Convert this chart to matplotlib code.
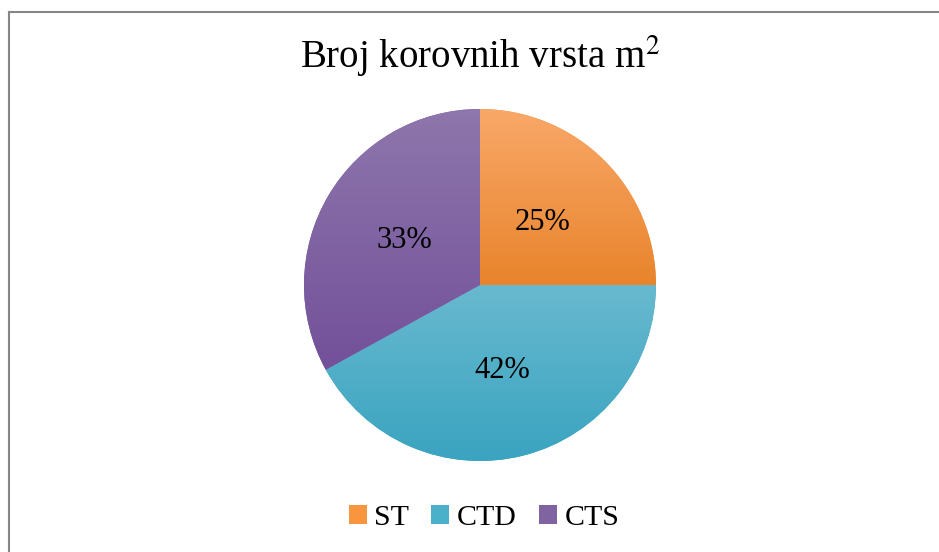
import numpy as np
import matplotlib
matplotlib.use("Agg")
import matplotlib.pyplot as plt
from matplotlib.patches import Patch
from matplotlib.lines import Line2D
from matplotlib.colors import LinearSegmentedColormap

plt.rcParams['font.family'] = ['Liberation Serif', 'DejaVu Serif']
plt.rcParams['mathtext.fontset'] = 'stix'

labels = ["ST", "CTD", "CTS"]
values = [25, 42, 33]
top_colors = ["#F9A869", "#68B9CF", "#8E77AC"]
bottom_colors = ["#E8842C", "#39A3C0", "#73509A"]
legend_colors = ["#F7963F", "#4BB0CA", "#8064A2"]

W, H = 939, 552
fig = plt.figure(figsize=(W / 100, H / 100), dpi=100)

# outer frame, only left and top edges fall inside the image
fx, fy = 8.5 / W, 1 - 11.5 / H
fig.lines.append(Line2D([fx, fx], [0, fy], transform=fig.transFigure,
                        color="#868686", linewidth=1.5))
fig.lines.append(Line2D([fx, 1], [fy, fy], transform=fig.transFigure,
                        color="#868686", linewidth=1.5))

cx, cy, r = 480, 285, 176
ax = fig.add_axes([(cx - r) / W, (H - cy - r) / H, 2 * r / W, 2 * r / H])

wedges, texts, autotexts = ax.pie(values, startangle=90, counterclock=False,
                                  colors=legend_colors, autopct='%1.0f%%',
                                  pctdistance=0.5, radius=1,
                                  textprops=dict(fontsize=22, color='black'))

for w, c1, c2 in zip(wedges, top_colors, bottom_colors):
    verts = w.get_patch_transform().transform(w.get_path().vertices)
    ymin, ymax = verts[:, 1].min(), verts[:, 1].max()
    cmap = LinearSegmentedColormap.from_list("g", [c1, c2])
    grad = np.linspace(0, 1, 256).reshape(-1, 1)
    im = ax.imshow(grad, cmap=cmap, extent=[-1.05, 1.05, ymin, ymax],
                   origin='upper', aspect='auto', zorder=2,
                   interpolation='bilinear')
    im.set_clip_path(w)

for t in autotexts:
    t.set_zorder(5)

ax.set_xlim(-1, 1)
ax.set_ylim(-1, 1)
ax.set_aspect('equal')
ax.axis('off')

fig.text(480 / W, 1 - 56 / H, "Broj korovnih vrsta m$^2$", fontsize=28,
         ha='center', va='center')

handles = [Patch(facecolor=c, edgecolor='none') for c in legend_colors]
fig.legend(handles, labels, loc='center', bbox_to_anchor=(484 / W, 1 - 518 / H),
           ncol=3, frameon=False, fontsize=21.5, handlelength=0.6,
           handleheight=0.6, handletextpad=0.25, columnspacing=0.75)

fig.savefig("out.png", dpi=100)
